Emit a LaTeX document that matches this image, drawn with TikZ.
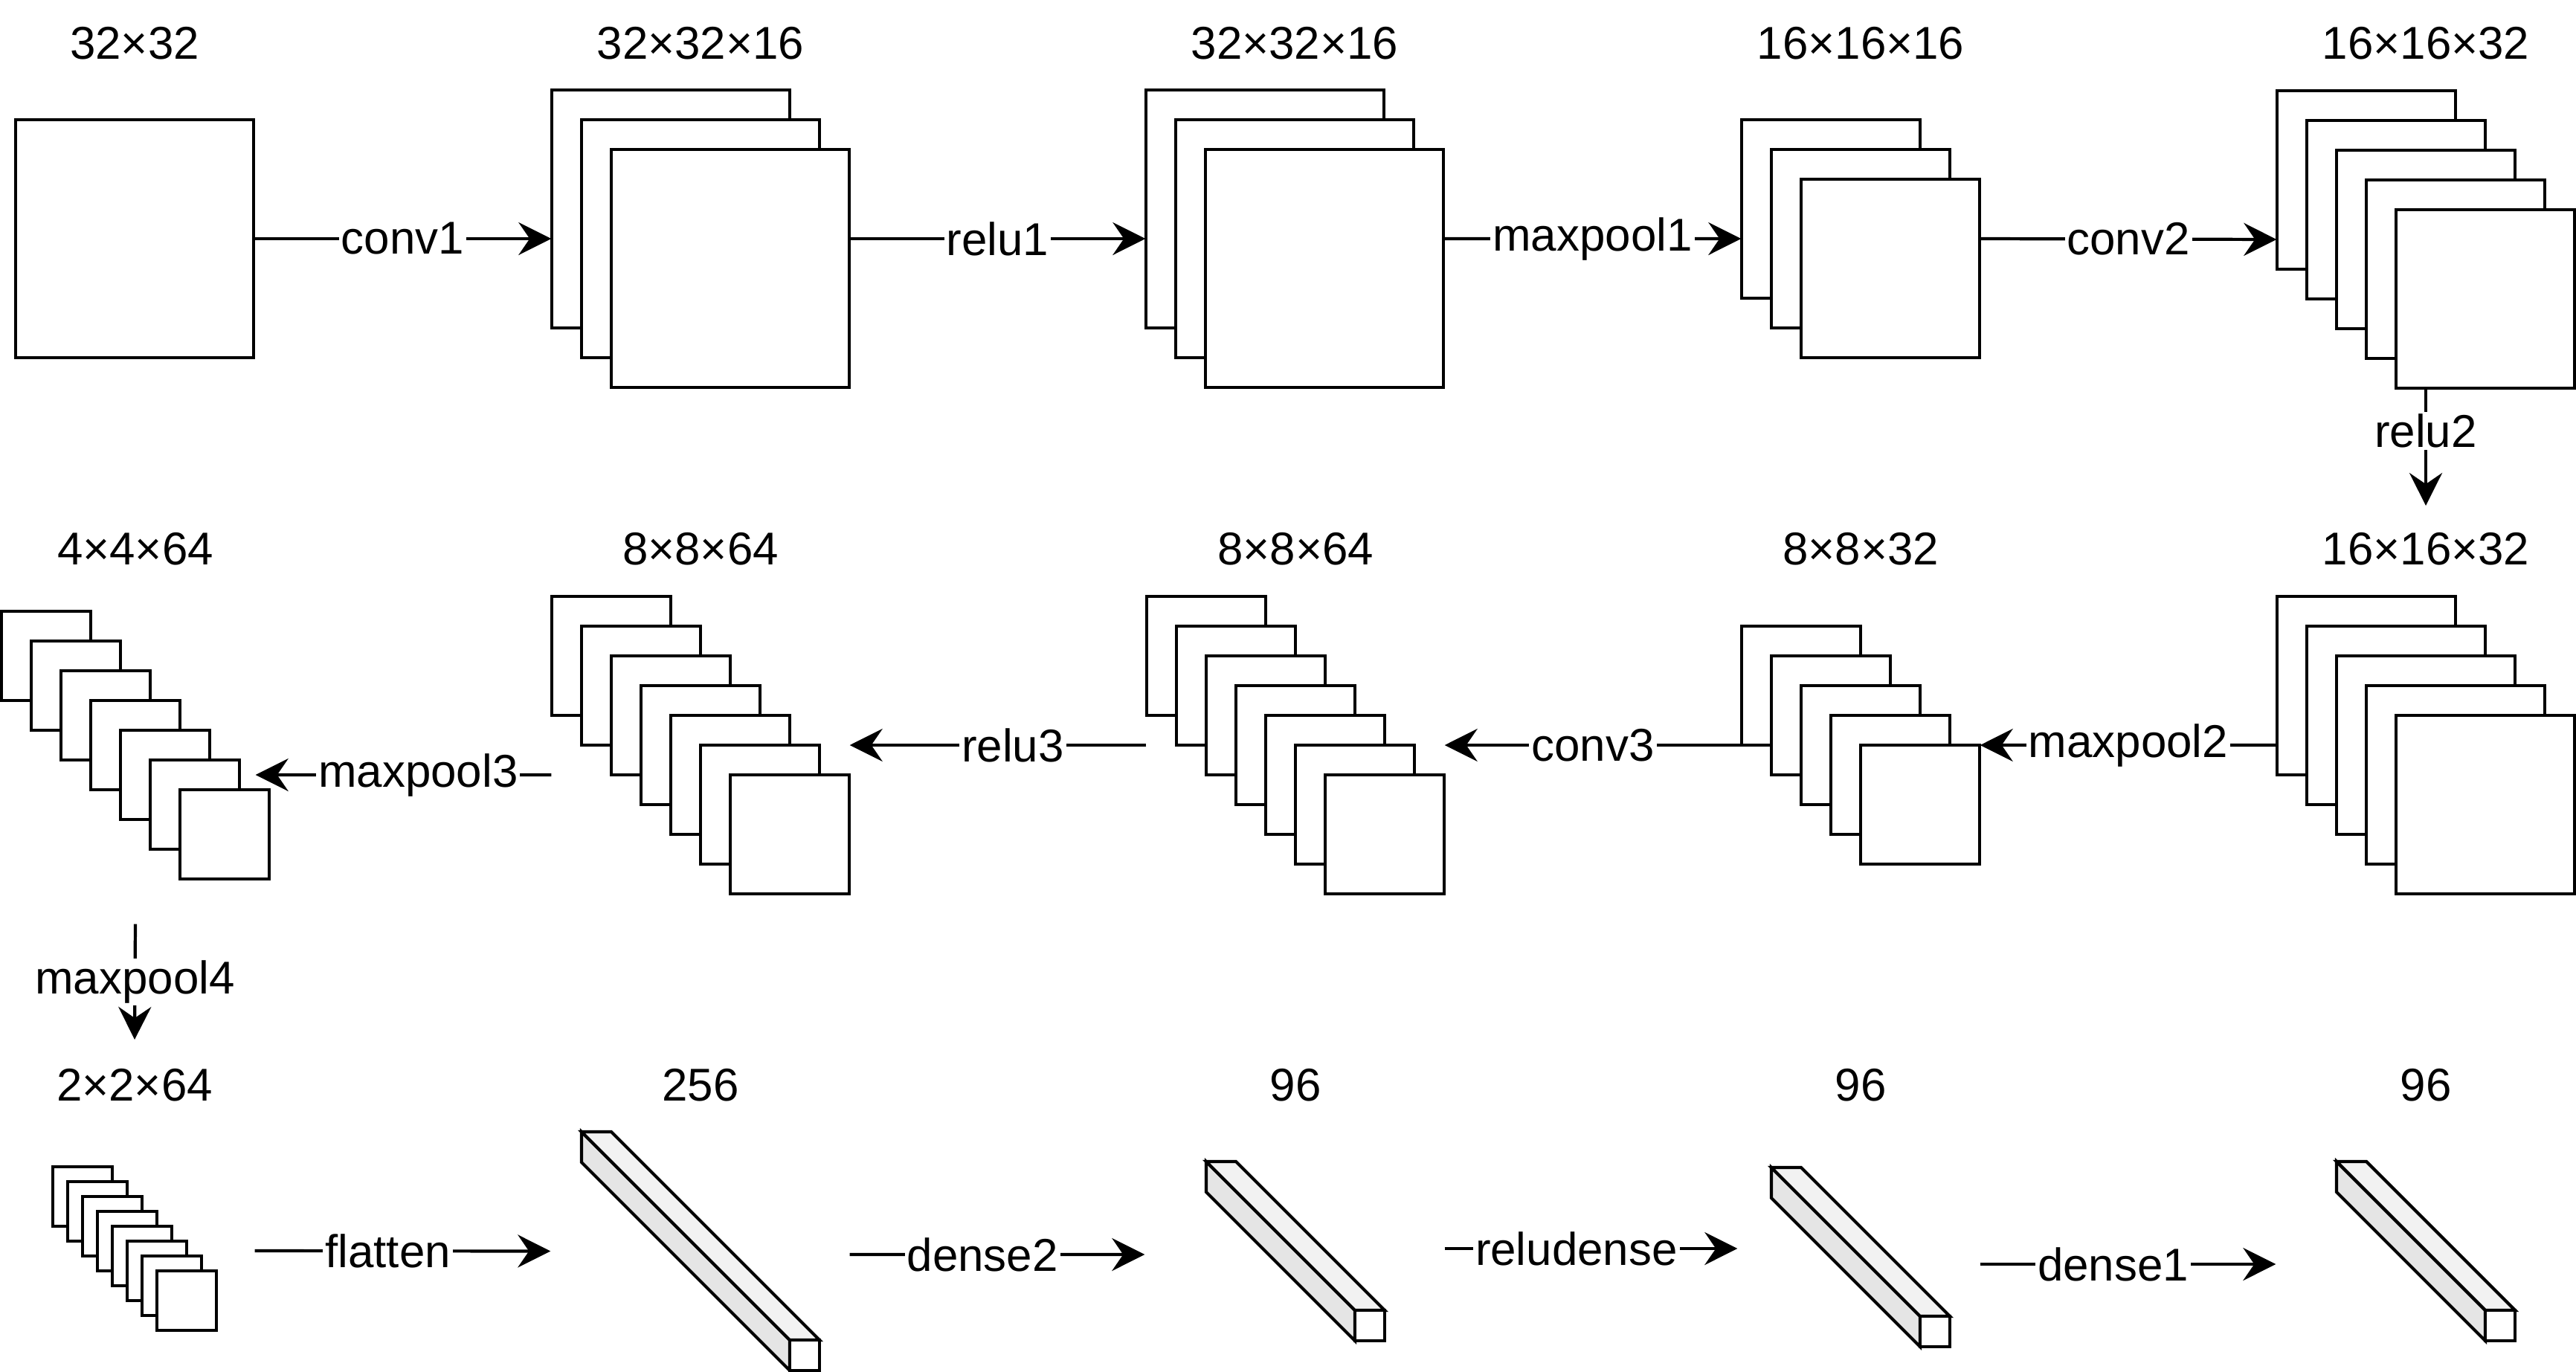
\documentclass[tikz,border=0pt]{standalone}
\usepackage{fontspec}
\setmainfont{Liberation Sans}
\usetikzlibrary{positioning, arrows.meta, fit}
\tikzset{
  hoja/.style={rectangle, draw=black, fill=white, line width=1.2pt, inner sep=0pt, outer sep=0pt},
  frente/.style={rectangle, draw=black, fill=white, line width=1.2pt, minimum width=0.4cm, minimum height=0.41cm, anchor=north west, inner sep=0pt, outer sep=0pt},
  cara/.style={draw=black, line width=1.2pt, line join=miter},
  etiqueta/.style={font=\fontsize{17.6}{21}\selectfont},
  paso/.style={fill=white, inner sep=0.03cm, font=\fontsize{17.6}{21}\selectfont},
  flecha/.style={-{Stealth[length=0.44cm, width=0.44cm, inset=0.15cm]}, line width=1.2pt}
}

% pila de mapas: nombre, x, y (hoja trasera), lado, hojas, desfase
\newcommand{\pila}[6]{%
  \foreach \i in {1,...,#5}{%
    \node[hoja, minimum width=#4cm, minimum height=#4cm, anchor=north west]
      (#1-\i) at ({#2+(\i-1)*#6}, {#3-(\i-1)*#6}) {};
  }
  \node[fit=(#1-1)(#1-#5), inner sep=0pt] (#1) {};
}

% barra 3D: nombre, x, y (cara frontal), profundidad
\newcommand{\barra}[4]{%
  \coordinate (#1-a) at (#2,#3);
  \coordinate (#1-t) at ([shift={(-#4,#4)}]#1-a);
  \filldraw[cara, fill=gray!20] (#1-a) -- (#1-t) -- ++(0,-0.41) -- ([yshift=-0.41cm]#1-a) -- cycle;
  \filldraw[cara, fill=gray!10] (#1-a) -- (#1-t) -- ++(0.4,0) -- ([xshift=0.4cm]#1-a) -- cycle;
  \node[frente] (#1-f) at (#1-a) {};
  \node[fit=(#1-f)(#1-t), inner sep=0pt] (#1) {};
}

\begin{document}
\begin{tikzpicture}
    \useasboundingbox (0,0) rectangle (34.64,-18.44);

    % --- Filas de los titulos ---
    \coordinate (fila1) at (0,-0.58);
    \coordinate (fila2) at (0,-7.38);
    \coordinate (fila3) at (0,-14.59);

    % --- Primera fila: entrada y convoluciones ---
    \pila{c1}{0.21}{-1.61}{3.2}{1}{0.4}
    \pila{c2}{7.42}{-1.21}{3.2}{3}{0.4}
    \pila{c3}{15.41}{-1.21}{3.2}{3}{0.4}
    \pila{c4}{23.42}{-1.61}{2.4}{3}{0.4}
    \pila{c5}{30.62}{-1.22}{2.4}{5}{0.4}

    % --- Segunda fila (de derecha a izquierda) ---
    \pila{c6}{30.62}{-8.02}{2.4}{5}{0.4}
    \pila{c7}{23.42}{-8.42}{1.6}{5}{0.4}
    \pila{c8}{15.42}{-8.02}{1.6}{7}{0.4}
    \pila{c9}{7.42}{-8.02}{1.6}{7}{0.4}
    \pila{c10}{0.02}{-8.22}{1.2}{7}{0.4}

    % --- Tercera fila: capas densas ---
    \pila{c11}{0.71}{-15.69}{0.8}{8}{0.2}
    \barra{b1}{10.62}{-18.02}{2.8}
    \barra{b2}{18.22}{-17.62}{2.0}
    \barra{b3}{25.82}{-17.70}{2.0}
    \barra{b4}{33.42}{-17.62}{2.0}

    % --- Titulos con las dimensiones ---
    \node[etiqueta] (e1) at (c1 |- fila1) {32×32};
    \node[etiqueta] (e2) at (c2 |- fila1) {32×32×16};
    \node[etiqueta] (e3) at (c3 |- fila1) {32×32×16};
    \node[etiqueta] (e4) at (c4 |- fila1) {16×16×16};
    \node[etiqueta] (e5) at (c5 |- fila1) {16×16×32};
    \node[etiqueta] (e6) at (c6 |- fila2) {16×16×32};
    \node[etiqueta] (e7) at (c7 |- fila2) {8×8×32};
    \node[etiqueta] (e8) at (c8 |- fila2) {8×8×64};
    \node[etiqueta] (e9) at (c9 |- fila2) {8×8×64};
    \node[etiqueta] (e10) at (c10 |- fila2) {4×4×64};
    \node[etiqueta] (e11) at (c11 |- fila3) {2×2×64};
    \node[etiqueta] (e12) at (b1 |- fila3) {256};
    \node[etiqueta] (e13) at (b2 |- fila3) {96};
    \node[etiqueta] (e14) at (b3 |- fila3) {96};
    \node[etiqueta] (e15) at (b4 |- fila3) {96};

    % ================= FLECHAS =================

    % Primera fila
    \draw[flecha] (c1.east) -- node[paso] {conv1} (c2.west);
    \draw[flecha] (c2.east) -- node[paso] {relu1} (c3.west);
    \draw[flecha] (c3.east) -- node[paso] {maxpool1} (c4.west);
    \draw[flecha] (c4.east) -- node[paso] {conv2} (c5.west);

    % Bajada a la segunda fila
    \draw[flecha] (c5.south) -- node[paso, pos=0.36] {relu2} ([yshift=0.58cm]e6.center);

    % Segunda fila, hacia la izquierda
    \draw[flecha] (c6.west) -- node[paso] {maxpool2} (c7.east);
    \draw[flecha] (c7.west) -- node[paso] {conv3} (c8.east);
    \draw[flecha] (c8.west) -- node[paso, pos=0.45] {relu3} (c9.east);
    \draw[flecha] ([yshift=-0.4cm]c9.west) -- node[paso, pos=0.45] {maxpool3} ([xshift=-0.19cm, yshift=-0.4cm]c10.east);

    % Bajada a la tercera fila
    \draw[flecha] ([yshift=-0.6cm]c10.south) -- node[paso] {maxpool4} ([yshift=0.61cm]e11.center);

    % Tercera fila
    \draw[flecha] ([xshift=0.51cm, yshift=-0.03cm]c11.east) -- node[paso, pos=0.45] {flatten} ([xshift=-0.41cm]b1.west);
    \draw[flecha] ([xshift=0.4cm, yshift=-0.045cm]b1.east) -- node[paso, pos=0.45] {dense2} ([xshift=-0.82cm, yshift=-0.045cm]b2.west);
    \draw[flecha] ([xshift=0.8cm, yshift=0.035cm]b2.east) -- node[paso, pos=0.45] {reludense} ([xshift=-0.45cm, yshift=0.115cm]b3.west);
    \draw[flecha] ([xshift=0.4cm, yshift=-0.095cm]b3.east) -- node[paso, pos=0.45] {dense1} ([xshift=-0.81cm, yshift=-0.175cm]b4.west);

\end{tikzpicture}
\end{document}
